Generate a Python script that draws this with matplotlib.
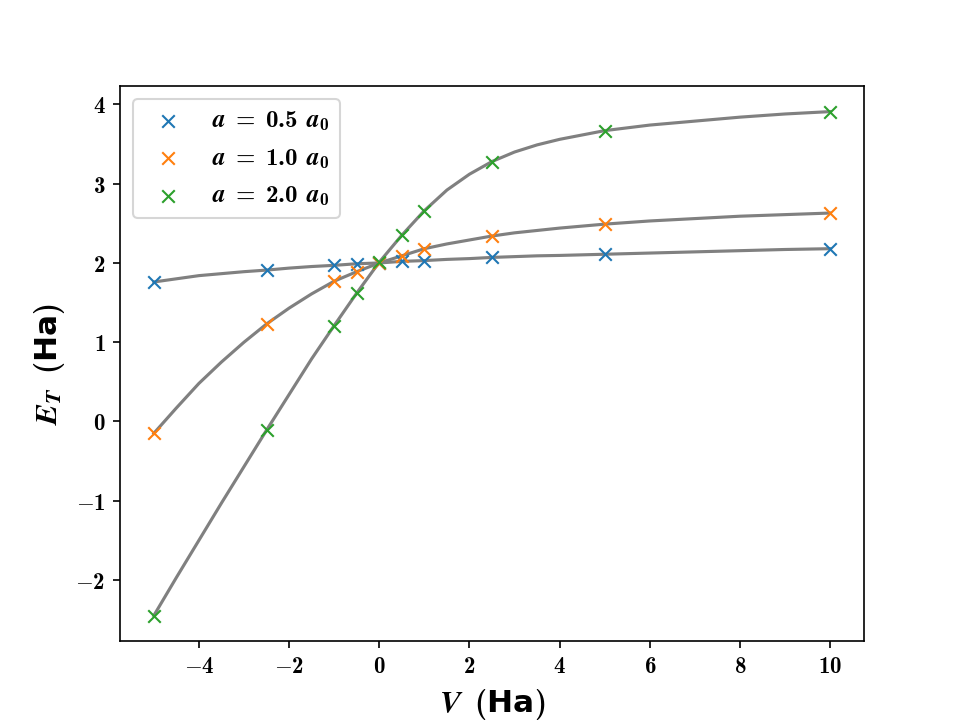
import matplotlib
matplotlib.use("Agg")
from matplotlib import pyplot as plt
from matplotlib.ticker import FuncFormatter

plt.rcParams['mathtext.fontset'] = 'custom'
plt.rcParams['mathtext.rm'] = 'cmb10'
plt.rcParams['mathtext.bf'] = 'cmb10'
plt.rcParams['mathtext.it'] = 'STIXGeneral:italic:bold'
plt.rcParams['mathtext.sf'] = 'DejaVu Sans:bold'

# computed points
V = [-5, -2.5, -1, -0.5, 0, 0.5, 1, 2.5, 5, 10]
E_a05 = [1.76, 1.91, 1.97, 1.99, 2.00, 2.02, 2.03, 2.07, 2.11, 2.18]
E_a10 = [-0.15, 1.23, 1.77, 1.89, 2.00, 2.09, 2.18, 2.34, 2.49, 2.63]
E_a20 = [-2.45, -0.11, 1.21, 1.62, 2.01, 2.35, 2.66, 3.28, 3.67, 3.91]

# grey model curves
V_fit = [-5, -4.5, -4, -3.5, -3, -2.5, -2, -1.5, -1, -0.5, 0, 0.5, 1,
         1.5, 2, 2.5, 3, 3.5, 4, 5, 6, 7, 8, 9, 10]
fit_a05 = [1.76, 1.80, 1.84, 1.865, 1.89, 1.91, 1.935, 1.955, 1.97, 1.99, 2.00, 2.02, 2.03,
           2.045, 2.055, 2.07, 2.08, 2.09, 2.095, 2.11, 2.125, 2.14, 2.155, 2.17, 2.18]
fit_a10 = [-0.15, 0.17, 0.48, 0.75, 1.00, 1.23, 1.43, 1.61, 1.77, 1.89, 2.00, 2.09, 2.18,
           2.24, 2.29, 2.34, 2.38, 2.41, 2.44, 2.49, 2.53, 2.56, 2.59, 2.61, 2.63]
fit_a20 = [-2.45, -1.97, -1.50, -1.03, -0.57, -0.11, 0.34, 0.79, 1.21, 1.62, 2.01, 2.35, 2.66,
           2.92, 3.12, 3.28, 3.40, 3.49, 3.56, 3.67, 3.74, 3.79, 3.84, 3.88, 3.91]

labels = [r'$a\ =\ 0.5\ \,a_0$', r'$a\ =\ 1.0\ \,a_0$', r'$a\ =\ 2.0\ \,a_0$']

fig, ax = plt.subplots(figsize=(6.4, 4.8), dpi=150)

for fit in [fit_a05, fit_a10, fit_a20]:
    ax.plot(V_fit, fit, color='gray', lw=1.5, zorder=2)

for E, lab in zip([E_a05, E_a10, E_a20], labels):
    ax.scatter(V, E, marker='x', linewidths=1.0, label=lab, zorder=3)

fmt = FuncFormatter(lambda v, pos: r'$%g$' % v)
ax.xaxis.set_major_formatter(fmt)
ax.yaxis.set_major_formatter(fmt)
ax.tick_params(labelsize=11)

ax.set_xlabel(r'$V\;\ (\mathsf{Ha})$', fontsize=15)
ax.set_ylabel(r'$E_T\;\ (\mathsf{Ha})$', fontsize=15)
ax.legend(loc='upper left', fontsize=12)

fig.savefig('out.png')
